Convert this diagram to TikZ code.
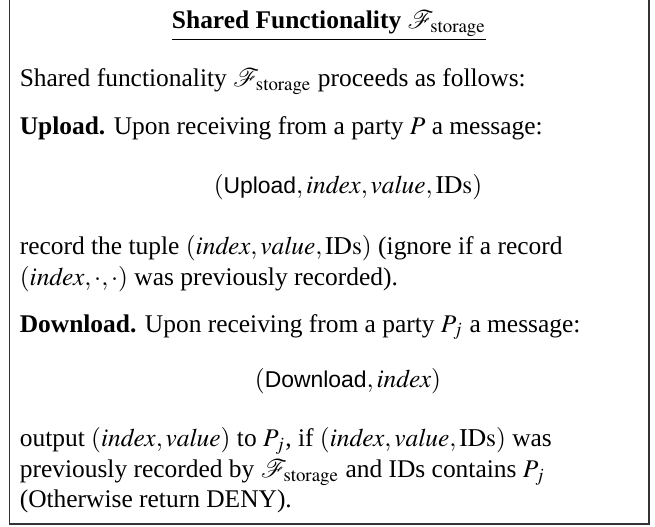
\documentclass[tikz,border=0pt]{standalone}
\usepackage{mathptmx}
\usepackage[no-math]{fontspec}
\setmainfont{Liberation Serif}
\setsansfont{Liberation Sans}[Scale=0.9]
\begin{document}
\begin{tikzpicture}[x=0.393pt,y=-0.393pt,
  line/.style={inner sep=0pt, anchor=base west},
  disp/.style={inner sep=0pt, anchor=base},
  frame/.style={draw=black!80, line width=0.5pt}]
\useasboundingbox (0,0) rectangle (655,527);
% open-topped frame
\draw[frame] (9.5,-5) -- (9.5,524) -- (649,524) -- (649,-5);

\node[disp] (title) at (329,28.3)
  {\underline{\textbf{Shared Functionality} $\mathcal{F}_{\mathrm{storage}}$}};

\node[line] (intro) at (19.3,87)
  {Shared functionality $\mathcal{F}_{\mathrm{storage}}$ proceeds as follows:};

\node[line] (up) at (19.3,135)
  {\textbf{Upload.} Upon receiving from a party $P$ a message:};
\node[disp] (upmsg) at (348,193)
  {$(\textsf{Upload}, \mathit{index}, \mathit{value}, \mathrm{IDs})$};
\node[line] (rec1) at (19.3,255)
  {record the tuple $(\mathit{index}, \mathit{value}, \mathrm{IDs})$ (ignore if a record};
\node[line] (rec2) at (19.3,285)
  {$(\mathit{index}, \cdot, \cdot)$ was previously recorded).};

\node[line] (down) at (19.3,332)
  {\textbf{Download.} Upon receiving from a party $P_j$ a message:};
\node[disp] (downmsg) at (348,387)
  {$(\textsf{Download}, \mathit{index})$};
\node[line] (out1) at (19.3,447)
  {output $(\mathit{index}, \mathit{value})$ to $P_j$, if $(\mathit{index}, \mathit{value}, \mathrm{IDs})$ was};
\node[line] (out2) at (19.3,478)
  {previously recorded by $\mathcal{F}_{\mathrm{storage}}$ and IDs contains $P_j$};
\node[line] (out3) at (19.3,508)
  {(Otherwise return DENY).};
\end{tikzpicture}
\end{document}
